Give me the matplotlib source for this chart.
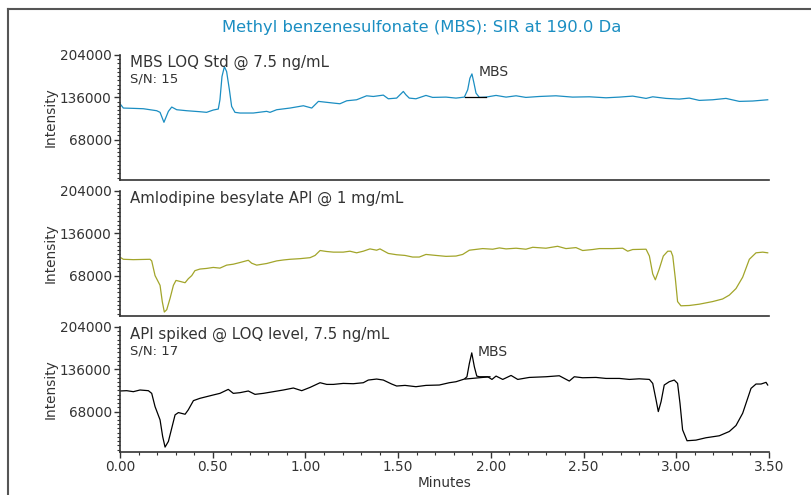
import matplotlib
matplotlib.use("Agg")
import matplotlib.pyplot as plt
from matplotlib.lines import Line2D
from matplotlib.ticker import MultipleLocator, FixedLocator

# --- data (minutes, intensity) ---

std_t = [0.000, 0.018, 0.072, 0.126, 0.198, 0.216, 0.237, 0.261, 0.279, 0.306,
         0.360, 0.431, 0.467, 0.503, 0.530, 0.539, 0.550, 0.563, 0.575, 0.590,
         0.602, 0.620, 0.647, 0.719, 0.791, 0.809, 0.845, 0.917, 0.989, 1.034,
         1.070, 1.151, 1.186, 1.223, 1.276, 1.330, 1.366, 1.420, 1.447, 1.492,
         1.528, 1.542, 1.560, 1.596, 1.650, 1.686, 1.758, 1.812, 1.857, 1.875,
         1.887, 1.898, 1.909, 1.920, 1.938, 1.974, 2.028, 2.082, 2.136, 2.189,
         2.261, 2.351, 2.441, 2.531, 2.621, 2.693, 2.765, 2.837, 2.873, 2.945,
         3.016, 3.070, 3.124, 3.196, 3.268, 3.340, 3.412, 3.493]
std_v = [125600, 118700, 118200, 117600, 114400, 111800, 95800, 113400, 120300, 116000,
         114400, 112800, 111800, 115500, 117100, 132000, 169400, 185300, 177300, 148000,
         121400, 111800, 110700, 110700, 113400, 111800, 116000, 118700, 122400, 118700,
         129400, 126700, 125600, 130400, 132000, 138400, 137300, 139500, 133600, 134700,
         145400, 140000, 134700, 133600, 139000, 135800, 136300, 134700, 136300, 148000,
         166700, 173600, 158700, 142700, 135800, 136300, 139000, 136300, 138400, 135800,
         137300, 138400, 136300, 136800, 135200, 136300, 137900, 134200, 136800, 134200,
         133100, 134700, 131000, 132000, 134200, 129400, 130000, 132000]

api_t = [0.004, 0.018, 0.072, 0.162, 0.171, 0.189, 0.216, 0.228, 0.239, 0.252,
         0.270, 0.288, 0.302, 0.324, 0.351, 0.368, 0.387, 0.404, 0.431, 0.467,
         0.503, 0.539, 0.575, 0.611, 0.647, 0.692, 0.710, 0.737, 0.791, 0.845,
         0.881, 0.917, 0.971, 1.025, 1.052, 1.079, 1.115, 1.151, 1.204, 1.240,
         1.276, 1.312, 1.348, 1.384, 1.402, 1.447, 1.492, 1.537, 1.578, 1.614,
         1.650, 1.704, 1.758, 1.812, 1.848, 1.884, 1.956, 2.010, 2.046, 2.082,
         2.136, 2.189, 2.226, 2.297, 2.360, 2.405, 2.459, 2.495, 2.549, 2.585,
         2.657, 2.711, 2.738, 2.765, 2.837, 2.855, 2.873, 2.887, 2.908, 2.930,
         2.954, 2.971, 2.981, 2.995, 3.007, 3.025, 3.070, 3.124, 3.196, 3.250,
         3.286, 3.322, 3.358, 3.394, 3.430, 3.466, 3.493]
api_v = [96800, 94200, 93600, 94200, 91600, 68000, 52300, 26200, 9400, 13100,
         31400, 52300, 60200, 58600, 56500, 62800, 68000, 75900, 78500, 79500,
         81100, 80000, 84800, 86300, 89000, 92600, 87900, 84800, 87400, 91600,
         93100, 94200, 95200, 96800, 100400, 108300, 106700, 105700, 105700, 107200,
         104600, 107200, 110900, 108800, 110900, 103600, 101500, 100400, 97800, 97800,
         102000, 100400, 98900, 99400, 102000, 108800, 111400, 110400, 112500, 110900,
         112000, 110400, 113500, 112000, 115100, 111400, 113000, 108300, 109900, 111400,
         111400, 112000, 107200, 109900, 110400, 99400, 70600, 61200, 78500, 99400,
         107200, 107200, 99400, 62800, 26200, 19400, 19900, 22000, 26200, 30400,
         36600, 47100, 65400, 94200, 104600, 105700, 104600]

spk_t = [0.000, 0.036, 0.072, 0.108, 0.153, 0.171, 0.189, 0.216, 0.230, 0.243,
         0.261, 0.279, 0.297, 0.315, 0.351, 0.368, 0.396, 0.431, 0.467, 0.503,
         0.539, 0.584, 0.611, 0.647, 0.692, 0.728, 0.773, 0.827, 0.881, 0.935,
         0.980, 1.025, 1.079, 1.115, 1.151, 1.204, 1.258, 1.312, 1.339, 1.384,
         1.420, 1.465, 1.492, 1.537, 1.596, 1.650, 1.722, 1.776, 1.812, 1.857,
         1.871, 1.884, 1.897, 1.911, 1.924, 1.938, 1.983, 2.006, 2.028, 2.064,
         2.109, 2.145, 2.207, 2.297, 2.369, 2.423, 2.450, 2.495, 2.567, 2.621,
         2.693, 2.747, 2.800, 2.855, 2.873, 2.891, 2.903, 2.918, 2.935, 2.962,
         2.989, 3.007, 3.020, 3.034, 3.058, 3.106, 3.160, 3.232, 3.286, 3.322,
         3.358, 3.403, 3.430, 3.457, 3.484, 3.493]
spk_v = [101100, 101600, 100000, 102700, 101600, 97300, 76000, 54700, 28000, 10900,
         20000, 41300, 62700, 66400, 63700, 70700, 85600, 89300, 92000, 94700,
         97300, 103700, 97300, 98400, 101100, 95700, 97300, 100000, 102700, 105900,
         101600, 106900, 114400, 111700, 111700, 113300, 112800, 114400, 118700, 120300,
         118700, 112300, 109100, 110100, 108000, 110100, 110700, 114400, 116000, 120300,
         124000, 145300, 162400, 140000, 125100, 124000, 124000, 119700, 125100, 119700,
         126100, 119700, 122900, 124000, 125600, 117100, 124000, 122400, 122900, 121300,
         121300, 119700, 120700, 119700, 113300, 86700, 68000, 84000, 110700, 116000,
         118700, 113300, 81300, 38700, 21100, 22100, 25900, 29100, 36000, 45600,
         65300, 105300, 112300, 112300, 115000, 110700]

# integration baselines under the MBS peak
std_base_t = [1.862, 1.974]
std_base_v = [136300, 136300]
spk_base_t = [1.862, 1.995]
spk_base_v = [120300, 124000]

panel_titles = ["MBS LOQ Std @ 7.5 ng/mL", "Amlodipine besylate API @ 1 mg/mL",
                "API spiked @ LOQ level, 7.5 ng/mL"]
sn_labels = ["S/N: 15", None, "S/N: 17"]
y_ticks = [68000, 136000, 204000]
x_ticks = [0.0, 0.5, 1.0, 1.5, 2.0, 2.5, 3.0, 3.5]

BLUE = "#1b8ec2"
OLIVE = "#a2a52a"
DARK = "#333333"

plt.rcParams['font.family'] = ['DejaVu Sans']

fig = plt.figure(figsize=(8.12, 4.95), dpi=100)

left, width = 120 / 812, 649 / 812
boxes = [(495 - 180) / 495, (495 - 316) / 495, (495 - 452) / 495]
height = 125 / 495

series = [(std_t, std_v, BLUE), (api_t, api_v, OLIVE), (spk_t, spk_v, "black")]
axes = []
for i, (t, v, c) in enumerate(series):
    ax = fig.add_axes([left, boxes[i], width, height])
    ax.plot(t, v, color=c, lw=0.9)
    ax.set_xlim(0, 3.5)
    ax.set_ylim(3000, 204000)
    for s in ["top", "right"]:
        ax.spines[s].set_visible(False)
    for s in ["left", "bottom"]:
        ax.spines[s].set_color(DARK)
        ax.spines[s].set_linewidth(1.2)
    ax.yaxis.set_major_locator(FixedLocator(y_ticks))
    ax.yaxis.set_minor_locator(MultipleLocator(6800))
    ax.set_yticklabels([f"{y:d}" for y in y_ticks])
    ax.xaxis.set_major_locator(FixedLocator(x_ticks))
    ax.xaxis.set_minor_locator(MultipleLocator(0.1))
    ax.tick_params(axis="both", which="major", length=4, width=1, color=DARK,
                   labelsize=9.8, labelcolor=DARK, pad=2)
    ax.tick_params(axis="both", which="minor", length=2, width=0.8, color=DARK)
    ax.set_ylabel("Intensity", fontsize=9.8, color=DARK, labelpad=2)
    ax.text(0.016, 1.0, panel_titles[i], transform=ax.transAxes, fontsize=10.8,
            color=DARK, va="top", ha="left")
    if sn_labels[i]:
        ax.text(0.016, 0.86, sn_labels[i], transform=ax.transAxes, fontsize=9.5,
                color=DARK, va="top", ha="left")
    if i < 2:
        ax.tick_params(axis="x", which="both", bottom=False, labelbottom=False)
    axes.append(ax)

axes[0].plot(std_base_t, std_base_v, color="black", lw=0.9)
axes[2].plot(spk_base_t, spk_base_v, color="black", lw=0.9)
axes[0].text(1.935, 176000, "MBS", fontsize=10, color=DARK, va="center", ha="left")
axes[2].text(1.930, 163000, "MBS", fontsize=10, color=DARK, va="center", ha="left")

axes[2].set_xticklabels([f"{x:.2f}" for x in x_ticks])
axes[2].set_xlabel("Minutes", fontsize=9.8, color=DARK, labelpad=1)

fig.text(0.519, 0.944, "Methyl benzenesulfonate (MBS): SIR at 190.0 Da",
         fontsize=11.8, color=BLUE, ha="center", va="center")

# outer frame, cut off at the right and bottom edges
fx, fy = 8 / 812, 1 - 9 / 495
fig.add_artist(Line2D([fx, fx], [0, fy], transform=fig.transFigure, color="#555555", lw=1.5))
fig.add_artist(Line2D([fx, 1], [fy, fy], transform=fig.transFigure, color="#555555", lw=1.5))

fig.savefig("out.png", dpi=100)
